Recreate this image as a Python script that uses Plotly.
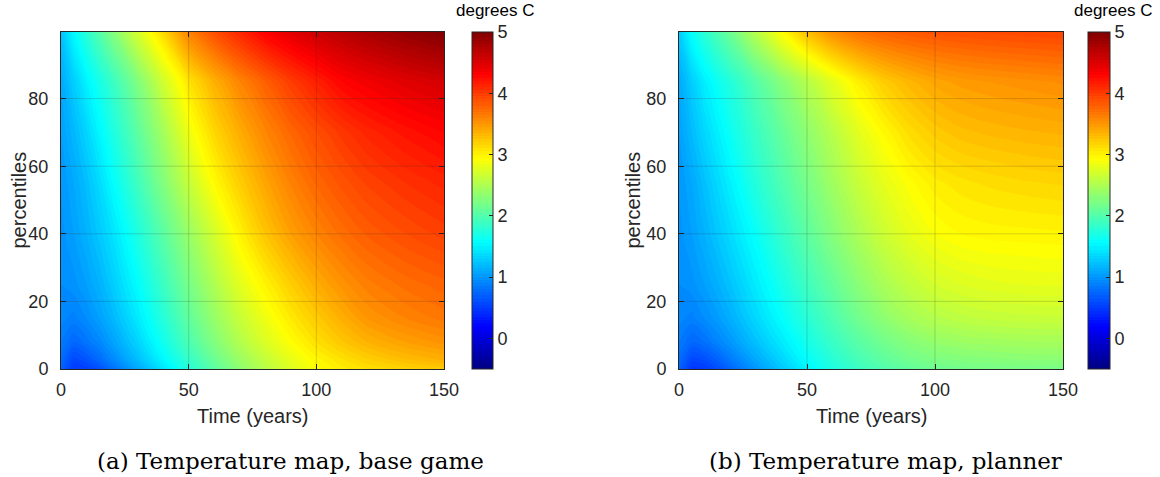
import plotly.graph_objects as go

# ---------------- data ----------------
times = [0, 5, 10, 15, 20, 30, 40, 50, 60, 70, 80, 90, 100, 110, 120, 135, 150]
percentiles = [0, 3, 8, 15, 25, 40, 55, 70, 85, 100]

# temperature (degrees C), one row per percentile, one column per time
temp_base = [
    [0.72, 0.50, 0.52, 0.62, 0.78, 1.10, 1.42, 1.75, 2.05, 2.32, 2.55, 2.75, 2.92, 3.03, 3.10, 3.17, 3.22],
    [0.78, 0.58, 0.65, 0.77, 0.92, 1.22, 1.53, 1.85, 2.14, 2.40, 2.62, 2.82, 2.98, 3.10, 3.20, 3.30, 3.37],
    [0.85, 0.75, 0.82, 0.92, 1.05, 1.33, 1.65, 1.97, 2.26, 2.52, 2.74, 2.93, 3.10, 3.24, 3.35, 3.45, 3.52],
    [0.92, 0.88, 0.95, 1.05, 1.17, 1.45, 1.76, 2.08, 2.37, 2.63, 2.85, 3.05, 3.22, 3.37, 3.50, 3.60, 3.67],
    [0.95, 0.98, 1.05, 1.15, 1.28, 1.56, 1.88, 2.20, 2.50, 2.78, 3.00, 3.20, 3.38, 3.52, 3.63, 3.72, 3.78],
    [0.98, 1.05, 1.15, 1.27, 1.40, 1.72, 2.05, 2.38, 2.70, 3.00, 3.25, 3.45, 3.60, 3.72, 3.81, 3.90, 3.97],
    [1.00, 1.10, 1.22, 1.37, 1.55, 1.90, 2.26, 2.62, 2.95, 3.20, 3.42, 3.61, 3.76, 3.87, 3.96, 4.05, 4.12],
    [1.05, 1.18, 1.34, 1.52, 1.70, 2.06, 2.44, 2.85, 3.15, 3.38, 3.59, 3.76, 3.90, 4.02, 4.12, 4.22, 4.30],
    [1.10, 1.30, 1.50, 1.68, 1.86, 2.25, 2.68, 3.08, 3.36, 3.60, 3.80, 3.99, 4.15, 4.30, 4.38, 4.48, 4.55],
    [1.25, 1.55, 1.80, 2.03, 2.26, 2.72, 3.15, 3.62, 3.90, 4.12, 4.33, 4.48, 4.60, 4.70, 4.79, 4.90, 5.00],
]

temp_planner = [
    [0.72, 0.48, 0.50, 0.60, 0.73, 1.00, 1.26, 1.51, 1.72, 1.88, 2.00, 2.09, 2.15, 2.18, 2.20, 2.21, 2.22],
    [0.78, 0.58, 0.62, 0.72, 0.85, 1.10, 1.34, 1.58, 1.78, 1.95, 2.08, 2.18, 2.24, 2.27, 2.29, 2.31, 2.32],
    [0.85, 0.75, 0.80, 0.90, 1.00, 1.23, 1.45, 1.67, 1.87, 2.04, 2.18, 2.29, 2.36, 2.40, 2.42, 2.44, 2.45],
    [0.92, 0.88, 0.95, 1.03, 1.13, 1.35, 1.57, 1.78, 1.98, 2.17, 2.33, 2.45, 2.53, 2.58, 2.61, 2.63, 2.64],
    [0.95, 0.98, 1.05, 1.14, 1.24, 1.46, 1.68, 1.90, 2.10, 2.30, 2.47, 2.60, 2.70, 2.75, 2.78, 2.80, 2.81],
    [0.98, 1.05, 1.15, 1.26, 1.37, 1.60, 1.84, 2.06, 2.28, 2.48, 2.66, 2.80, 2.90, 2.95, 2.97, 2.98, 2.99],
    [1.00, 1.10, 1.23, 1.36, 1.49, 1.75, 1.98, 2.20, 2.42, 2.63, 2.80, 2.93, 3.03, 3.08, 3.11, 3.14, 3.16],
    [1.05, 1.20, 1.35, 1.48, 1.62, 1.87, 2.10, 2.33, 2.55, 2.78, 2.96, 3.12, 3.22, 3.28, 3.31, 3.34, 3.36],
    [1.10, 1.30, 1.48, 1.62, 1.75, 2.02, 2.28, 2.54, 2.79, 3.02, 3.21, 3.33, 3.42, 3.47, 3.50, 3.53, 3.56],
    [1.30, 1.60, 1.80, 1.98, 2.16, 2.56, 2.95, 3.30, 3.57, 3.72, 3.80, 3.85, 3.88, 3.90, 3.92, 3.94, 3.96],
]

x_ticks = [0, 50, 100, 150]
y_ticks = [0, 20, 40, 60, 80]
cbar_ticks = [0, 1, 2, 3, 4, 5]
x_label = "Time (years)"
y_label = "percentiles"
cbar_title = "degrees C"
captions = ["(a) Temperature map, base game", "(b) Temperature map, planner"]

# ---------------- styling ----------------
W, H = 1160, 477
jet = [
    [0.0, "rgb(0,0,128)"],
    [0.125, "rgb(0,0,255)"],
    [0.375, "rgb(0,255,255)"],
    [0.625, "rgb(255,255,0)"],
    [0.875, "rgb(255,0,0)"],
    [1.0, "rgb(128,0,0)"],
]
INK = "#262626"
SANS = "Liberation Sans, Arial, Helvetica, sans-serif"
SERIF = "DejaVu Serif, Liberation Serif, serif"

def px_x(p):
    return p / W

def px_y(p):
    return (H - p) / H

axes_px = [(61, 444), (679, 1063)]
cbar_px = [(472, 21), (1088, 22)]
cbar_title_px = [(495, 11), (1113, 11)]
ylabel_offset = [43, 47]
caption_cx = [290, 885]
top_px, bot_px = 32, 369

fig = go.Figure()

for i, (z, (xl, xr), (cx, cw)) in enumerate(zip([temp_base, temp_planner], axes_px, cbar_px)):
    sfx = "" if i == 0 else str(i + 1)
    fig.add_trace(go.Contour(
        x=times, y=percentiles, z=z,
        colorscale=jet, zmin=-0.5, zmax=5, zauto=False,
        autocontour=False,
        contours=dict(start=-0.5, end=5.0, size=0.05, coloring="fill", showlines=False),
        line=dict(width=0, smoothing=0.9),
        xaxis="x" + sfx, yaxis="y" + sfx,
        hoverinfo="skip",
        colorbar=dict(
            x=px_x(cx), xanchor="left", xpad=0,
            thickness=cw, thicknessmode="pixels",
            len=(bot_px - top_px) / H, lenmode="fraction",
            y=px_y(top_px), yanchor="top", ypad=0,
            outlinecolor=INK, outlinewidth=1,
            tickmode="array", tickvals=cbar_ticks,
            ticks="inside", ticklen=4, tickcolor=INK,
            tickfont=dict(family=SANS, size=18, color=INK),
        ),
    ))
    axis_common = dict(
        ticks="inside", ticklen=5, tickcolor=INK, tickwidth=1,
        showline=True, linecolor=INK, linewidth=1, mirror="ticks",
        showgrid=False, zeroline=False,
        tickfont=dict(family=SANS, size=18, color=INK),
        layer="above traces",
    )
    fig.update_layout(**{
        "xaxis" + sfx: dict(domain=[px_x(xl), px_x(xr)], range=[0, 150],
                            tickmode="array", tickvals=x_ticks, anchor="y" + sfx,
                            ticklabelstandoff=4, **axis_common),
        "yaxis" + sfx: dict(domain=[px_y(bot_px), px_y(top_px)], range=[0, 99.7],
                            tickmode="array", tickvals=y_ticks, anchor="x" + sfx,
                            ticklabelstandoff=8, **axis_common),
    })
    # grid lines drawn above the filled contours (MATLAB style)
    for gx in x_ticks[1:-1]:
        fig.add_shape(type="line", xref="x" + sfx, yref="y" + sfx + " domain",
                      x0=gx, x1=gx, y0=0, y1=1, layer="above",
                      line=dict(color="rgba(38,38,38,0.18)", width=1))
    for gy in y_ticks[1:]:
        fig.add_shape(type="line", xref="x" + sfx + " domain", yref="y" + sfx,
                      x0=0, x1=1, y0=gy, y1=gy, layer="above",
                      line=dict(color="rgba(38,38,38,0.18)", width=1))
    # axis titles
    fig.add_annotation(xref="paper", yref="paper", x=px_x((xl + xr) / 2), y=px_y(416),
                       text=x_label, showarrow=False, xanchor="center", yanchor="middle",
                       font=dict(family=SANS, size=20, color=INK))
    fig.add_annotation(xref="paper", yref="paper", x=px_x(xl - ylabel_offset[i]),
                       y=px_y((top_px + bot_px) / 2),
                       text=y_label, showarrow=False, textangle=-90,
                       xanchor="center", yanchor="middle",
                       font=dict(family=SANS, size=20, color=INK))
    # colorbar title
    tx, ty = cbar_title_px[i]
    fig.add_annotation(xref="paper", yref="paper", x=px_x(tx), y=px_y(ty),
                       text=cbar_title, showarrow=False, xanchor="center", yanchor="middle",
                       font=dict(family=SANS, size=17, color="black"))
    # caption
    fig.add_annotation(xref="paper", yref="paper", x=px_x(caption_cx[i]), y=px_y(461),
                       text=captions[i], showarrow=False, xanchor="center", yanchor="middle",
                       font=dict(family=SERIF, size=23, color="black"))

fig.update_layout(
    width=W, height=H,
    margin=dict(l=0, r=0, t=0, b=0, autoexpand=False),
    paper_bgcolor="white", plot_bgcolor="white",
    showlegend=False,
)

fig.write_html("out.html")
